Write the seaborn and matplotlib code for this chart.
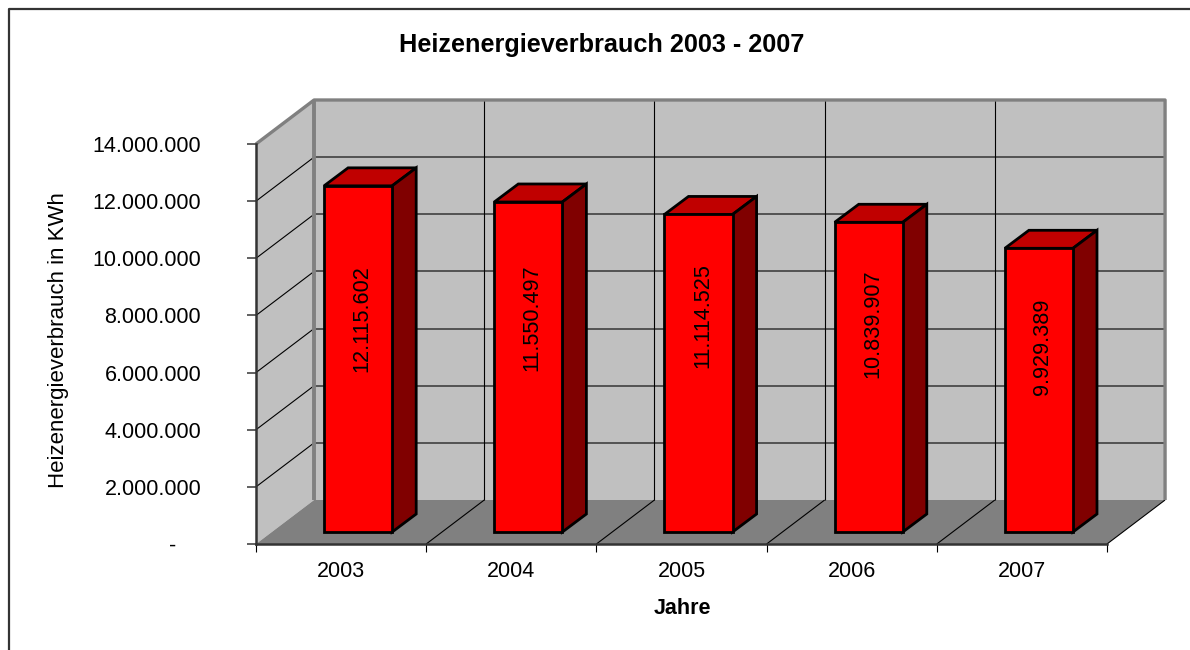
import pandas as pd
import matplotlib.pyplot as plt
from matplotlib.lines import Line2D
from matplotlib.patches import Polygon
from matplotlib.transforms import ScaledTranslation
import seaborn as sns

# Daten
jahre = ["2003", "2004", "2005", "2006", "2007"]
verbrauch = [12115602, 11550497, 11114525, 10839907, 9929389]
y_ticks = [0, 2000000, 4000000, 6000000, 8000000, 10000000, 12000000, 14000000]
y_tick_labels = ["-", "2.000.000", "4.000.000", "6.000.000", "8.000.000",
                 "10.000.000", "12.000.000", "14.000.000"]
werte_labels = ["12.115.602", "11.550.497", "11.114.525", "10.839.907", "9.929.389"]

# Pixelmasse aus der Vorlage
W, H = 1190, 650
PX_X = 1 / 170      # eine Kategorie = 170 px
PX_Y = 14000000 / 400
wand_dx, wand_dy = 58 * PX_X, 44 * PX_Y
balken_dx, balken_dy = 24 * PX_X, 18 * PX_Y
versatz_x, versatz_y = 17 * PX_X, 12 * PX_Y
# Mitte der Wertebeschriftung (die Vorlage zentriert sie nicht auf dem Balken)
label_mitte = [7880000, 7905000, 8010000, 7695000, 6900000]

sns.set_style("white")
plt.rcParams["font.family"] = ["Liberation Sans", "DejaVu Sans"]
plt.rcParams["text.color"] = "black"
plt.rcParams["axes.labelcolor"] = "black"

df = pd.DataFrame({"jahr": jahre, "verbrauch": verbrauch})

fig = plt.figure(figsize=(W / 100, H / 100), dpi=100)
ax = fig.add_axes([256 / W, (H - 544) / H, 851 / W, 400 / H])
ax.patch.set_visible(False)

sns.barplot(data=df, x="jahr", y="verbrauch", color="#ff0000", saturation=1,
            width=0.4, edgecolor="black", linewidth=2.0, zorder=5, ax=ax)
ax.set_xlim(-0.5, 4.5)
ax.set_ylim(0, 14000000)

x0, x1 = -0.5, 4.5
y_max = 14000000


def flaeche(punkte, farbe, z, kante="none", lw=0):
    ax.add_patch(Polygon(punkte, closed=True, facecolor=farbe, edgecolor=kante,
                         linewidth=lw, zorder=z, clip_on=False, joinstyle="miter"))


def linie(xs, ys, farbe="black", lw=0.8, z=2):
    ax.plot(xs, ys, color=farbe, lw=lw, zorder=z, clip_on=False, solid_capstyle="butt")


# Waende und Boden
flaeche([(x0 + wand_dx, wand_dy), (x1 + wand_dx, wand_dy),
         (x1 + wand_dx, y_max + wand_dy), (x0 + wand_dx, y_max + wand_dy)], "#c0c0c0", 1)
flaeche([(x0, 0), (x0 + wand_dx, wand_dy), (x0 + wand_dx, y_max + wand_dy), (x0, y_max)],
        "#c0c0c0", 1)
flaeche([(x0, 0), (x1, 0), (x1 + wand_dx, wand_dy), (x0 + wand_dx, wand_dy)], "#808080", 1.5)

# Gitternetz
for t in y_ticks[1:-1]:
    linie([x0 + wand_dx, x1 + wand_dx], [t + wand_dy, t + wand_dy], "#404040", 1.2)
for t in y_ticks[:-1]:
    if t > 0:
        linie([x0, x0 + wand_dx], [t, t + wand_dy], "black", 0.8)
for i in range(1, 6):
    if i < 5:
        linie([x0 + i + wand_dx, x0 + i + wand_dx], [wand_dy, y_max + wand_dy], "black", 0.8)
    linie([x0 + i, x0 + i + wand_dx], [0, wand_dy], "black", 0.8, 2)

# Rahmen der Wand
linie([x0, x0 + wand_dx, x1 + wand_dx, x1 + wand_dx],
      [y_max, y_max + wand_dy, y_max + wand_dy, wand_dy], "#808080", 2.4, 3)
linie([x0 + wand_dx, x0 + wand_dx], [wand_dy, y_max + wand_dy], "#808080", 2.8, 3)

# 3D-Balken: Front kommt von seaborn, Seite und Deckel werden angesetzt
for bar, wert, text, mitte in zip(ax.patches, verbrauch, werte_labels, label_mitte):
    bar.set_x(bar.get_x() + versatz_x)
    bar.set_y(versatz_y)
    bar.set_clip_on(False)
    links = bar.get_x()
    rechts = links + bar.get_width()
    unten = versatz_y
    oben = unten + wert
    flaeche([(links, oben), (rechts, oben), (rechts + balken_dx, oben + balken_dy),
             (links + balken_dx, oben + balken_dy)], "#c00000", 4, "black", 2.0)
    flaeche([(rechts, unten), (rechts + balken_dx, unten + balken_dy),
             (rechts + balken_dx, oben + balken_dy), (rechts, oben)], "#800000", 4, "black", 2.0)
    ax.text(links + bar.get_width() / 2 + 4 * PX_X, mitte, text, rotation=90,
            ha="center", va="center", fontsize=15.6, color="black", zorder=6)

# Achsen
for s in ["top", "right"]:
    ax.spines[s].set_visible(False)
for s in ["left", "bottom"]:
    ax.spines[s].set_color("#333333")
    ax.spines[s].set_linewidth(1.8)
    ax.spines[s].set_zorder(3)

ax.set_yticks(y_ticks)
ax.set_yticklabels(y_tick_labels, fontsize=15.5, color="black")
ax.tick_params(axis="y", left=True, length=6.5, width=1.4, color="#606060", pad=33)
ax.set_xticks(range(5))
ax.set_xticklabels(jahre, fontsize=15.5, color="black")
ax.set_xticks([x0 + i for i in range(6)], minor=True)
ax.tick_params(axis="x", which="major", bottom=False, pad=9)
ax.tick_params(axis="x", which="minor", bottom=True, length=6, width=0.8, color="black")

# Das "-" der Null steht in der Vorlage weiter links
null_label = ax.get_yticklabels()[0]
null_label.set_transform(null_label.get_transform()
                         + ScaledTranslation(-25 / 100, 0, fig.dpi_scale_trans))

ax.set_xlabel("Jahre", fontsize=15.5, fontweight="bold")
ax.xaxis.set_label_coords((682 - 256) / 851, (544 - 609) / 400)
ax.xaxis.label.set_verticalalignment("center")
ax.set_ylabel("Heizenergieverbrauch in KWh", fontsize=16)
ax.yaxis.set_label_coords((59 - 256) / 851, (544 - 340) / 400)
ax.yaxis.label.set_verticalalignment("center")
fig.suptitle("Heizenergieverbrauch 2003 - 2007", x=602 / W, y=1 - 45 / H, va="center",
             fontsize=18.2, fontweight="bold", color="black")

# Diagrammrahmen (nur links und oben sichtbar)
fig.add_artist(Line2D([8.5 / W, 8.5 / W, 1], [0, 1 - 9 / H, 1 - 9 / H], color="#333333", lw=1.6,
                      transform=fig.transFigure))

fig.savefig("out.png", dpi=100)
